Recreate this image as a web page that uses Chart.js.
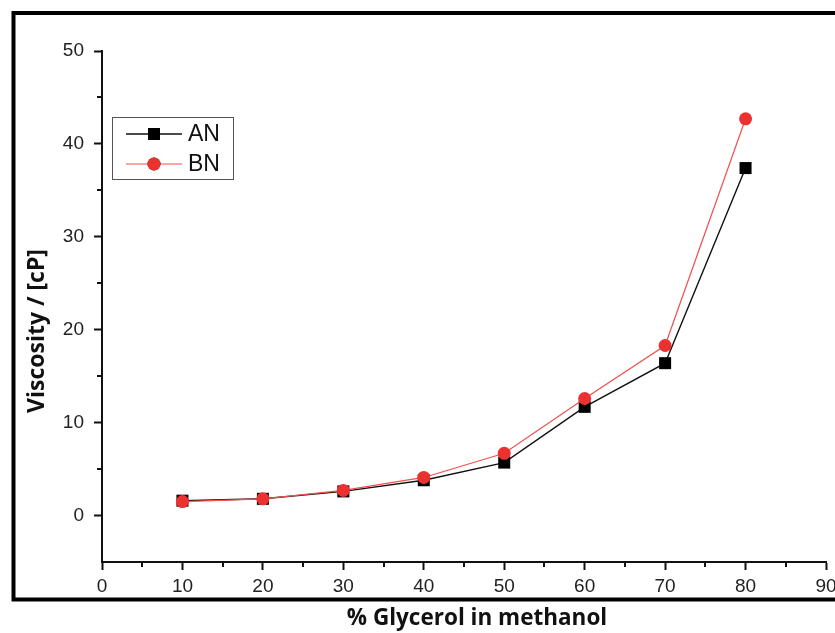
<!DOCTYPE html>
<html>
<head>
<meta charset="utf-8">
<title>Viscosity vs glycerol</title>
<script src="https://cdn.jsdelivr.net/npm/chart.js@4.4.1/dist/chart.umd.min.js"></script>
<style>
  html, body { margin: 0; padding: 0; background: #fff; }
  #wrap { width: 835px; height: 633px; position: relative; }
</style>
</head>
<body>
<div id="wrap"><canvas id="mycanvas" width="835" height="633"></canvas></div>
<script>
// % glycerol in methanol
var glycerol = [10, 20, 30, 40, 50, 60, 70, 80];
// viscosity in cP
var viscAN = [1.6, 1.8, 2.6, 3.8, 5.7, 11.7, 16.4, 37.4];
var viscBN = [1.5, 1.8, 2.7, 4.1, 6.7, 12.6, 18.3, 42.7];

var xTicks = [0, 10, 20, 30, 40, 50, 60, 70, 80, 90];
var yTicks = [0, 10, 20, 30, 40, 50];
var xMinor = [5, 15, 25, 35, 45, 55, 65, 75, 85];
var yMinor = [5, 15, 25, 35, 45];

var xTitle = "% Glycerol in methanol";
var yTitle = "Viscosity / [cP]";

var red = "rgb(236, 50, 48)";
var tickFont = { family: "'Liberation Sans', Arial, sans-serif", size: 19 };

function points(xs, ys) {
  var out = [];
  for (var i in xs) out.push({ x: xs[i], y: ys[i] });
  return out;
}

// black frame around the figure
var framePlugin = {
  id: "frame",
  beforeDraw: function(chart) {
    var ctx = chart.ctx;
    ctx.save();
    ctx.fillStyle = "#fff";
    ctx.fillRect(0, 0, chart.width, chart.height);
    ctx.strokeStyle = "#000";
    ctx.lineWidth = 4;
    ctx.strokeRect(13.5, 13, 850, 586.5);
    ctx.restore();
  }
};

// short ticks between the labelled ones, plus both axis titles
var minorTicks = {
  id: "minorTicks",
  afterDraw: function(chart) {
    var ctx = chart.ctx;
    var sx = chart.scales.x, sy = chart.scales.y;
    ctx.save();
    ctx.strokeStyle = "#111";
    ctx.lineWidth = 2;
    ctx.beginPath();
    xMinor.forEach(function(v) {
      var px = Math.round(sx.getPixelForValue(v));
      ctx.moveTo(px, sx.top);
      ctx.lineTo(px, sx.top + 5);
    });
    yMinor.forEach(function(v) {
      var py = Math.round(sy.getPixelForValue(v));
      ctx.moveTo(sy.right, py);
      ctx.lineTo(sy.right - 5, py);
    });
    ctx.stroke();

    ctx.fillStyle = "#111";
    ctx.textAlign = "center";
    ctx.textBaseline = "middle";
    ctx.font = "bold 22.5px 'Open Sans', sans-serif";
    ctx.fillText(xTitle, 477, 619);

    ctx.translate(37, 331);
    ctx.rotate(-Math.PI / 2);
    ctx.font = "bold 23px 'Open Sans', sans-serif";
    ctx.fillText(yTitle, 0, 0);
    ctx.restore();
  }
};

// boxed legend inside the plot
var boxLegend = {
  id: "boxLegend",
  afterDraw: function(chart) {
    var ctx = chart.ctx;
    var left = 112, top = 117, w = 121, h = 62;
    ctx.save();
    ctx.strokeStyle = "#555";
    ctx.lineWidth = 1;
    ctx.strokeRect(left + 0.5, top + 0.5, w, h);
    var rows = [134, 164];
    chart.data.datasets.forEach(function(ds, i) {
      var y = rows[i];
      ctx.strokeStyle = ds.borderColor;
      ctx.lineWidth = ds.borderWidth;
      ctx.beginPath();
      ctx.moveTo(126, y);
      ctx.lineTo(182, y);
      ctx.stroke();
      Chart.helpers.drawPoint(ctx, {
        pointStyle: ds.pointStyle,
        radius: ds.pointRadius,
        borderWidth: 0
      }, 154, y);
      ctx.fillStyle = ds.pointBackgroundColor;
      ctx.fill();
      ctx.fillStyle = "#111";
      ctx.font = "23px 'Liberation Sans', Arial, sans-serif";
      ctx.textBaseline = "middle";
      ctx.fillText(ds.label, 188, y + 1);
    });
    ctx.restore();
  }
};

var chartdata = {
  datasets: [
    {
      label: "AN",
      data: points(glycerol, viscAN),
      borderColor: "#111",
      backgroundColor: "#000",
      pointBackgroundColor: "#000",
      pointBorderColor: "#000",
      borderWidth: 1.4,
      pointStyle: "rect",
      pointRadius: 8.5,
      pointBorderWidth: 0,
      order: 1
    },
    {
      label: "BN",
      data: points(glycerol, viscBN),
      borderColor: "rgb(240, 80, 78)",
      backgroundColor: red,
      pointBackgroundColor: red,
      pointBorderColor: red,
      borderWidth: 1.2,
      pointStyle: "circle",
      pointRadius: 6.5,
      pointBorderWidth: 0,
      order: 0
    }
  ]
};

var ctx = document.getElementById("mycanvas");

var LineGraph = new Chart(ctx, {
  type: "line",
  data: chartdata,
  plugins: [framePlugin, minorTicks, boxLegend],
  options: {
    responsive: false,
    animation: false,
    events: [],
    layout: { padding: { top: 51, right: 9, bottom: 0, left: 0 } },
    plugins: {
      legend: { display: false },
      tooltip: { enabled: false }
    },
    scales: {
      x: {
        type: "linear",
        min: 0,
        max: 90,
        afterBuildTicks: function(scale) {
          scale.ticks = xTicks.map(function(v) { return { value: v }; });
        },
        afterFit: function(scale) {
          scale.height = 71;
          scale.paddingLeft = 0;
          scale.paddingRight = 0;
        },
        border: { color: "#111", width: 2 },
        grid: { drawOnChartArea: false, drawTicks: true, tickLength: 8, tickColor: "#111", tickWidth: 2 },
        ticks: { color: "#222", font: tickFont, padding: 5, maxRotation: 0 }
      },
      y: {
        min: -5,
        max: 50,
        afterBuildTicks: function(scale) {
          scale.ticks = yTicks.map(function(v) { return { value: v }; });
        },
        afterFit: function(scale) { scale.width = 102; },
        border: { color: "#111", width: 2 },
        grid: { drawOnChartArea: false, drawTicks: true, tickLength: 8, tickColor: "#111", tickWidth: 2 },
        ticks: { color: "#222", font: tickFont, padding: 10 }
      }
    }
  }
});
</script>
</body>
</html>
